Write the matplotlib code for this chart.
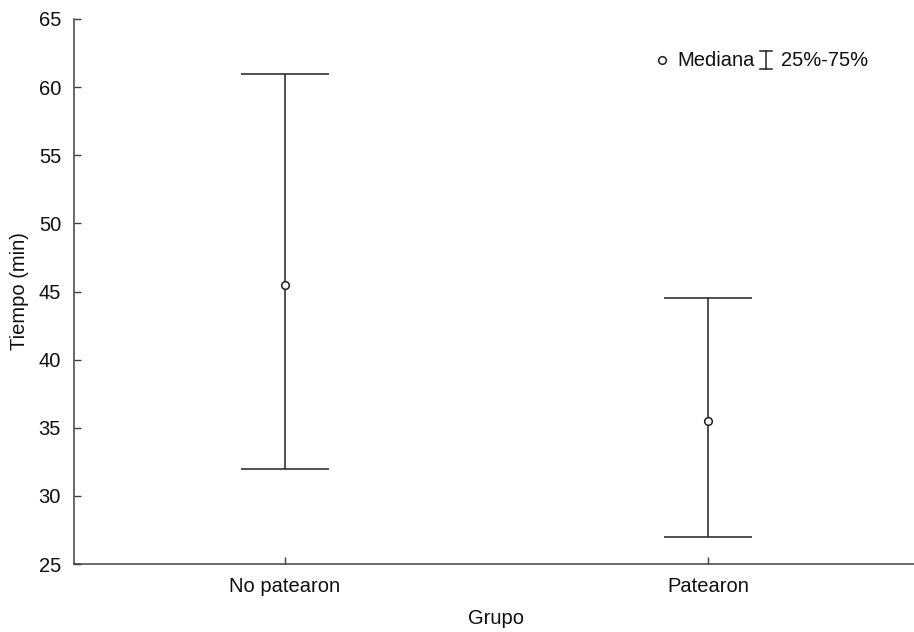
import matplotlib.pyplot as plt

plt.rcParams['font.family'] = ['Liberation Sans', 'DejaVu Sans']

# datos
grupos = ['No patearon', 'Patearon']
mediana = [45.5, 35.5]
q25 = [32, 27]
q75 = [61, 44.5]

fig = plt.figure(figsize=(9.14, 6.32), dpi=100)
ax = fig.add_axes([73.5 / 914, 68 / 632, 846 / 914, 545 / 632])

x = list(range(len(grupos)))
cap = 0.104
for i in x:
    ax.vlines(i, q25[i], q75[i], color='#202020', lw=1.1, zorder=2)
    ax.hlines([q25[i], q75[i]], i - cap, i + cap, color='#202020', lw=1.1, zorder=2)
ax.plot(x, mediana, 'o', ms=5.5, mfc='white', mec='#202020', mew=1.1, zorder=3)

ax.set_xlim(-0.5, 1.5)
ax.set_ylim(25, 65)
ax.set_yticks(range(25, 66, 5))
ax.set_xticks(x)
ax.set_xticklabels(grupos)

for s in ['top', 'right']:
    ax.spines[s].set_visible(False)
for s in ['left', 'bottom']:
    ax.spines[s].set_color('#404040')
    ax.spines[s].set_linewidth(1.1)
ax.tick_params(direction='in', length=5, width=1, color='#404040',
               labelsize=14.5, pad=9, labelcolor='#101010')

ax.set_xlabel('Grupo', fontsize=14.5, labelpad=10, color='#101010')
ax.set_ylabel('Tiempo (min)', fontsize=14.5, labelpad=7, color='#101010')

# leyenda manual
tr = ax.transAxes
ly = (632 - 60 - 68) / 545
ax.plot([(662 - 73.5) / 846], [ly], 'o', ms=5.5, mfc='white', mec='#202020',
        mew=1.1, transform=tr, clip_on=False)
ax.text((677 - 73.5) / 846, ly, 'Mediana', transform=tr,
        fontsize=14.5, va='center', ha='left', color='#101010')
ex = (766 - 73.5) / 846
y0 = (632 - 69 - 68) / 545
y1 = (632 - 51 - 68) / 545
ax.plot([ex, ex], [y0, y1], color='#202020', lw=1.1, transform=tr, clip_on=False)
ax.plot([ex - 0.007, ex + 0.007], [y0, y0], color='#202020', lw=1.1, transform=tr, clip_on=False)
ax.plot([ex - 0.007, ex + 0.007], [y1, y1], color='#202020', lw=1.1, transform=tr, clip_on=False)
ax.text((781 - 73.5) / 846, ly, '25%-75%', transform=tr,
        fontsize=14.5, va='center', ha='left', color='#101010')

fig.savefig('out.png', dpi=100)
